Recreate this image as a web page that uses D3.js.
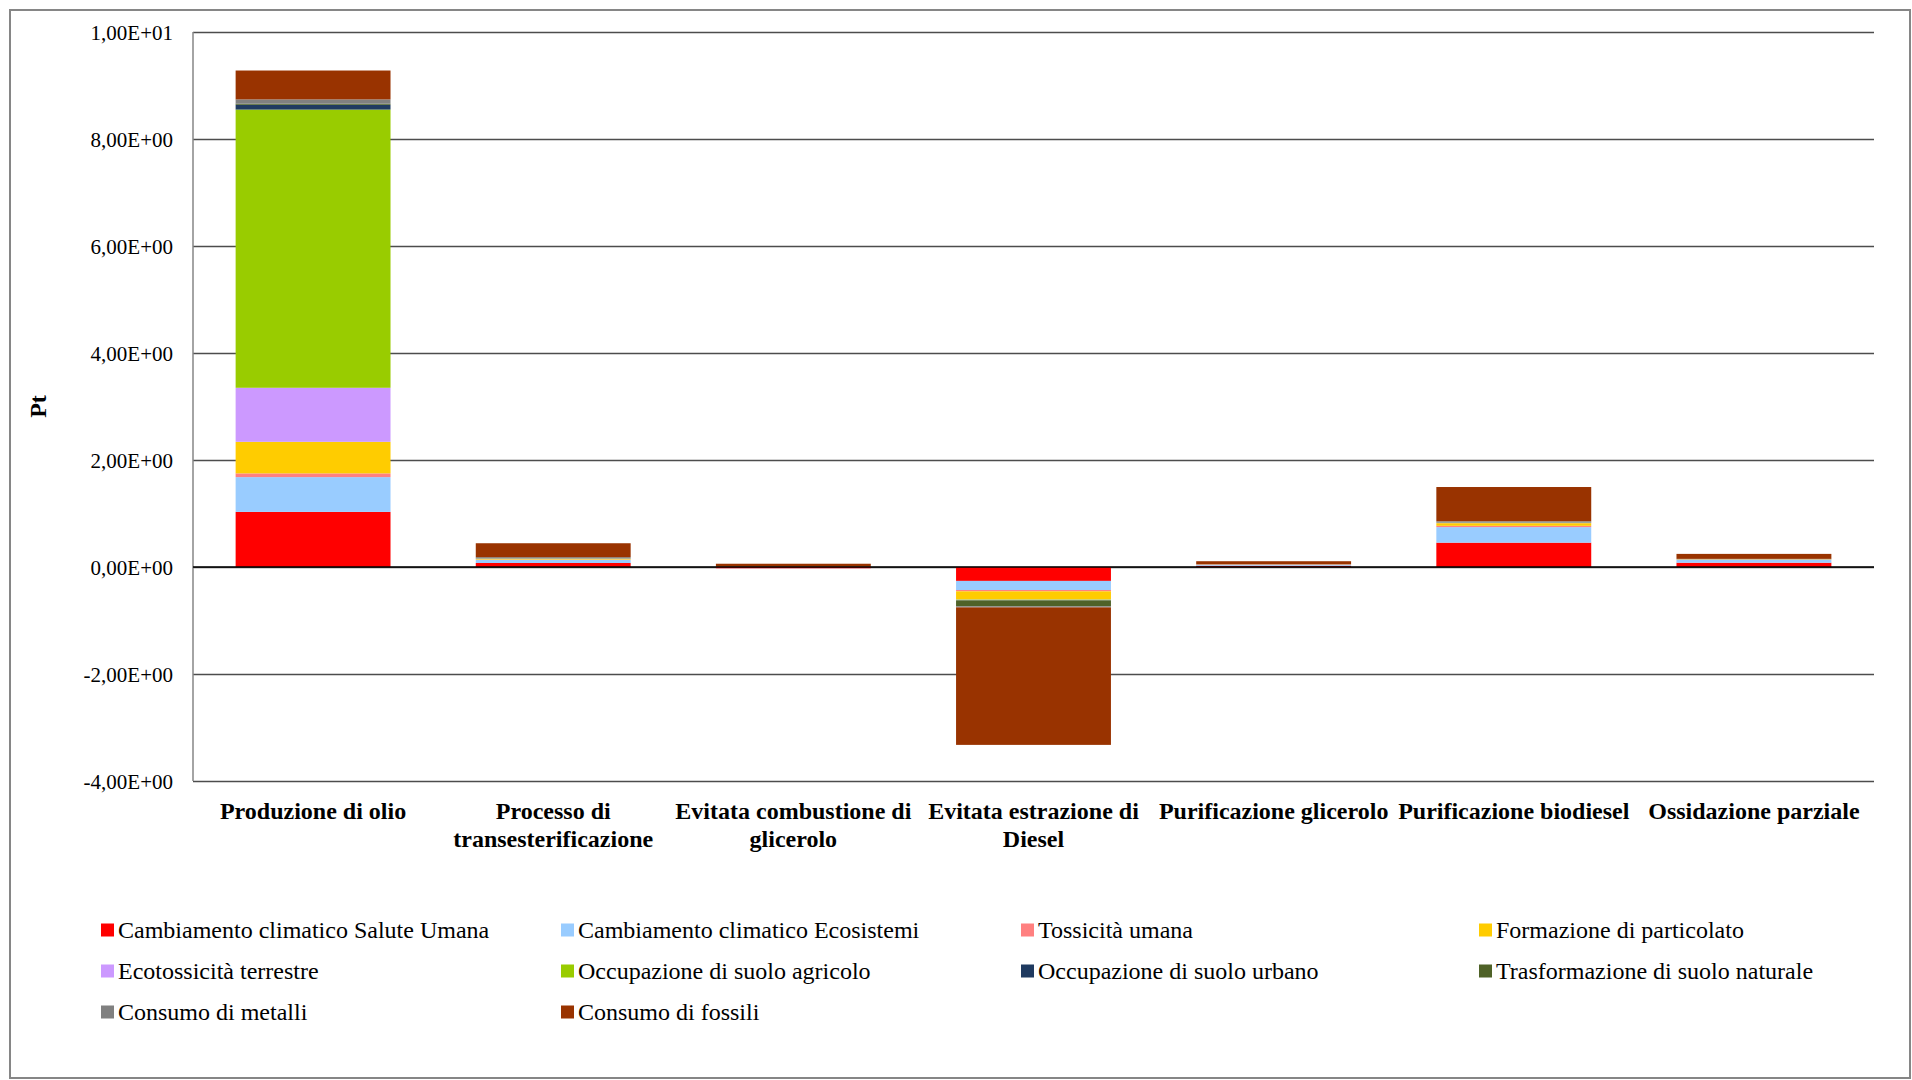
<!DOCTYPE html>
<html>
<head>
<meta charset="utf-8">
<script src="https://cdn.jsdelivr.net/npm/d3@7"></script>
<style>
  html, body { margin: 0; padding: 0; background: #fff; }
  svg { display: block; }
  text { font-family: "Liberation Serif", "Times New Roman", serif; fill: #000; }
</style>
</head>
<body>
<svg id="chart" width="1912" height="1080"></svg>
<script>
// ---- data ----
const categories = [
  "Produzione di olio",
  "Processo di transesterificazione",
  "Evitata combustione di glicerolo",
  "Evitata estrazione di Diesel",
  "Purificazione glicerolo",
  "Purificazione biodiesel",
  "Ossidazione parziale"
];
const categoryLines = [
  ["Produzione di olio"],
  ["Processo di", "transesterificazione"],
  ["Evitata combustione di", "glicerolo"],
  ["Evitata estrazione di", "Diesel"],
  ["Purificazione glicerolo"],
  ["Purificazione biodiesel"],
  ["Ossidazione parziale"]
];
const seriesNames = [
  "Cambiamento climatico Salute Umana",
  "Cambiamento climatico Ecosistemi",
  "Tossicità umana",
  "Formazione di particolato",
  "Ecotossicità terrestre",
  "Occupazione di suolo agricolo",
  "Occupazione di suolo urbano",
  "Trasformazione di suolo naturale",
  "Consumo di metalli",
  "Consumo di fossili"
];
const seriesColors = ["#FF0000", "#99CCFF", "#FF8080", "#FFCC00", "#CC99FF",
                      "#99CC00", "#1F3A60", "#4F6228", "#808080", "#993300"];

// values per series, one per category
const cambClimSaluteUmana   = [1.03, 0.075, -0.020, -0.260, 0.020, 0.455, 0.080];
const cambClimEcosistemi    = [0.65, 0.060, -0.005, -0.170, 0.015, 0.290, 0.056];
const tossicitaUmana        = [0.07, 0.005, -0.010, -0.025, 0.010, 0.025, 0.004];
const formazioneParticolato = [0.59, 0.010,  0.002, -0.150, 0.002, 0.050, 0.004];
const ecotossicitaTerrestre = [1.01, 0.005,  0.001, -0.005, 0.001, 0.010, 0.002];
const occupazioneAgricolo   = [5.20, 0.005,  0.001, -0.010, 0.001, 0.005, 0.002];
const occupazioneUrbano     = [0.09, 0.002,  0.000, -0.005, 0.001, 0.005, 0.001];
const trasformazioneNaturale= [0.02, 0.002,  0.000, -0.110, 0.001, 0.005, 0.001];
const consumoMetalli        = [0.08, 0.020,  0.002, -0.020, 0.002, 0.010, 0.002];
const consumoFossili        = [0.54, 0.260,  0.055, -2.570, 0.055, 0.640, 0.093];

const seriesValues = [cambClimSaluteUmana, cambClimEcosistemi, tossicitaUmana,
  formazioneParticolato, ecotossicitaTerrestre, occupazioneAgricolo,
  occupazioneUrbano, trasformazioneNaturale, consumoMetalli, consumoFossili];

const yTicks = [-4, -2, 0, 2, 4, 6, 8, 10];
const yTickLabels = ["-4,00E+00", "-2,00E+00", "0,00E+00", "2,00E+00",
                     "4,00E+00", "6,00E+00", "8,00E+00", "1,00E+01"];
const yTitle = "Pt";

// ---- layout ----
const svg = d3.select("#chart");
const plot = { left: 193, right: 1874, top: 32, bottom: 781 };

// outer frame
svg.append("rect")
  .attr("x", 10).attr("y", 10).attr("width", 1900).attr("height", 1068)
  .attr("fill", "#fff").attr("stroke", "#868686").attr("stroke-width", 2);

const x = d3.scaleBand().domain(categories)
  .range([plot.left, plot.right]).paddingInner(0.355).paddingOuter(0.1775);
const y = d3.scaleLinear().domain([-4, 10]).range([plot.bottom, plot.top]);

// table for stacking
const table = categories.map((c, i) => {
  const row = { cat: c };
  seriesNames.forEach((s, j) => row[s] = seriesValues[j][i]);
  return row;
});
const stack = d3.stack().keys(seriesNames).offset(d3.stackOffsetDiverging);
const stacked = stack(table);

// gridlines
const yAxis = d3.axisLeft(y).tickValues(yTicks)
  .tickSize(-(plot.right - plot.left))
  .tickFormat((d, i) => yTickLabels[i]);
const gy = svg.append("g").attr("transform", `translate(${plot.left},0)`).call(yAxis);
gy.select(".domain").remove();
gy.selectAll(".tick line").attr("stroke", "#4d4d4d").attr("stroke-width", 1.3);
gy.selectAll(".tick text").attr("x", -20).attr("dy", "0.34em")
  .style("font-size", "21px").style("font-family", "Liberation Serif");

// left axis line
svg.append("line").attr("x1", plot.left).attr("x2", plot.left)
  .attr("y1", plot.top).attr("y2", plot.bottom)
  .attr("stroke", "#868686").attr("stroke-width", 1.5);

// bars
const layers = svg.append("g").selectAll("g").data(stacked).join("g")
  .attr("fill", (d, i) => seriesColors[i]);
layers.selectAll("rect").data(d => d).join("rect")
  .attr("x", d => x(d.data.cat))
  .attr("width", x.bandwidth())
  .attr("y", d => y(Math.max(d[0], d[1])))
  .attr("height", d => Math.abs(y(d[0]) - y(d[1])));

// zero line
svg.append("line").attr("x1", plot.left).attr("x2", plot.right)
  .attr("y1", y(0)).attr("y2", y(0)).attr("stroke", "#000").attr("stroke-width", 1.5);

// category labels
const catG = svg.append("g");
categories.forEach((c, i) => {
  const t = catG.append("text")
    .attr("x", x(c) + x.bandwidth() / 2)
    .attr("y", 819)
    .attr("text-anchor", "middle")
    .style("font-size", "24px").style("font-weight", "bold");
  categoryLines[i].forEach((line, k) => {
    t.append("tspan").attr("x", x(c) + x.bandwidth() / 2)
      .attr("dy", k === 0 ? 0 : 28).text(line);
  });
});

// y title
svg.append("text")
  .attr("transform", `translate(46,${(plot.top + plot.bottom) / 2}) rotate(-90)`)
  .attr("text-anchor", "middle")
  .style("font-size", "24px").style("font-weight", "bold").text(yTitle);

// legend
const legX = [101, 561, 1021, 1479];
const legY = [930, 971, 1012];
const leg = svg.append("g");
seriesNames.forEach((s, i) => {
  const col = i % 4, row = Math.floor(i / 4);
  const g = leg.append("g").attr("transform", `translate(${legX[col]},${legY[row]})`);
  g.append("rect").attr("x", 0).attr("y", -6.5).attr("width", 13).attr("height", 13)
    .attr("fill", seriesColors[i]);
  g.append("text").attr("x", 17).attr("y", 0).attr("dy", "0.34em")
    .style("font-size", "24px").text(s);
});
</script>
</body>
</html>
